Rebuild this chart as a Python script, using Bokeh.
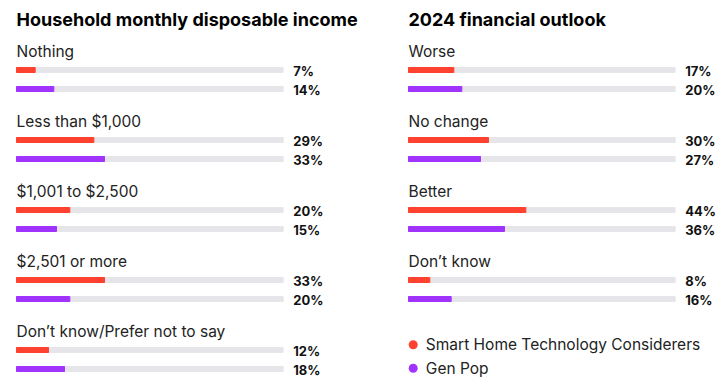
from bokeh.plotting import figure
from bokeh.models import Range1d, ColumnDataSource
from bokeh.layouts import row
from bokeh.embed import file_html
from bokeh.resources import INLINE
from bokeh.core.properties import value

# ---- data ----
left_title = "Household monthly disposable income"
left_categories = ["Nothing", "Less than $1,000", "$1,001 to $2,500",
                   "$2,501 or more", "Don\u2019t know/Prefer not to say"]
left_smart = [7, 29, 20, 33, 12]
left_gen = [14, 33, 15, 20, 18]

right_title = "2024 financial outlook"
right_categories = ["Worse", "No change", "Better", "Don\u2019t know"]
right_smart = [17, 30, 44, 8]
right_gen = [20, 27, 36, 16]

series_names = ["Smart Home Technology Considerers", "Gen Pop"]

# ---- style ----
RED = "#ff4130"
PURPLE = "#a133ff"
TRACK = "#e6e6ea"
FONT = "Inter"
W, H = 362, 384
PX = 2.667          # pixels per percentage point
FIRST = 69.5        # first red bar centre (px from top)
STEP = 70           # group spacing
GAP = 19            # red -> purple offset
BAR_H = 5


def panel(title, cats, smart, gen, left_px, legend=False):
    p = figure(width=W, height=H, output_backend="svg", toolbar_location=None,
               x_range=Range1d(-left_px / PX, (W - left_px) / PX),
               y_range=Range1d(H, 0), min_border=0,
               x_axis_type=None, y_axis_type=None)
    p.outline_line_color = None
    p.xgrid.visible = False
    p.ygrid.visible = False
    p.background_fill_color = "white"
    p.border_fill_color = "white"

    n = len(cats)
    yr = [FIRST + i * STEP for i in range(n)]
    yp = [y + GAP for y in yr]
    src = ColumnDataSource(dict(
        cat=cats, yr=yr, yp=yp, s=smart, g=gen,
        ylab=[y - 19 for y in yr],
        vr=[y + 0.8 for y in yr], vp=[y + 0.8 for y in yp],
        sl=[f"{v}%" for v in smart], gl=[f"{v}%" for v in gen],
        full=[100] * n, zero=[0] * n, vx=[103.75] * n,
    ))
    p.hbar(y="yr", left="zero", right="full", height=BAR_H, color=TRACK, source=src)
    p.hbar(y="yp", left="zero", right="full", height=BAR_H, color=TRACK, source=src)
    p.hbar(y="yr", left="zero", right="s", height=BAR_H, color=RED, source=src)
    p.hbar(y="yp", left="zero", right="g", height=BAR_H, color=PURPLE, source=src)

    p.text(x="zero", y="ylab", text="cat", source=src, text_font=value(FONT),
           text_font_size="15.5px", text_color="#222222", text_baseline="middle")
    p.text(x="vx", y="vr", text="sl", source=src, text_font=value(FONT),
           text_font_size="13px", text_font_style="bold", text_color="#111111",
           text_baseline="middle")
    p.text(x="vx", y="vp", text="gl", source=src, text_font=value(FONT),
           text_font_size="13px", text_font_style="bold", text_color="#111111",
           text_baseline="middle")

    p.text(x=[0], y=[19], text=[title], text_font=value(FONT), text_font_size="18px",
           text_font_style="bold", text_color="#000000", text_baseline="middle")

    if legend:
        ly = [344.3, 367.7]
        p.scatter(x=[1.76, 1.76], y=ly, size=9, color=[RED, PURPLE], line_color=None)
        p.text(x=[6.5, 6.5], y=ly, text=series_names,
               text_font=value(FONT), text_font_size="15.5px", text_color="#222222",
               text_baseline="middle")
    return p


pl = panel(left_title, left_categories, left_smart, left_gen, 16)
pr = panel(right_title, right_categories, right_smart, right_gen, 46, legend=True)
layout = row(pl, pr)

open("out.html", "w").write(file_html(layout, INLINE))
